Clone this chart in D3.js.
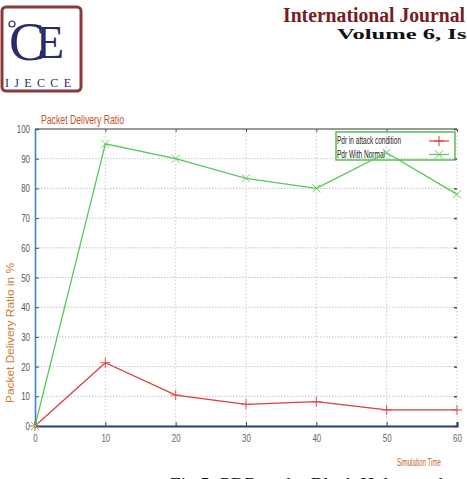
<!DOCTYPE html>
<html>
<head>
<meta charset="utf-8">
<script src="https://cdn.jsdelivr.net/npm/d3@7"></script>
<style>
body { margin: 0; background: #fff; }
svg { display: block; }
</style>
</head>
<body>
<script>
// chart data
var times = [0, 10, 20, 30, 40, 50, 60];
var attackPdr = [0, 21.3, 10.4, 7.3, 8.2, 5.4, 5.4];
var normalPdr = [0, 95, 90, 83.4, 80, 92, 78];
var xTicks = [0, 10, 20, 30, 40, 50, 60];
var yTicks = [0, 10, 20, 30, 40, 50, 60, 70, 80, 90, 100];
var seriesNames = ["Pdr in attack condition", "Pdr With Normal"];

var W = 467, H = 479;
var sans = "'Liberation Sans', Arial, sans-serif";
var serif = "'Liberation Serif', 'Times New Roman', serif";

var svg = d3.select("body").append("svg")
    .attr("width", W)
    .attr("height", H);

// squeeze a text into a given width (the chart uses a very narrow font)
function squeeze(sel, perChar) {
    sel.each(function() {
        var t = d3.select(this);
        t.attr("textLength", t.text().length * perChar)
         .attr("lengthAdjust", "spacingAndGlyphs");
    });
}

// header: logo + journal name
var logo = svg.append("g");
logo.append("rect")
    .attr("x", 2).attr("y", 7).attr("width", 79).attr("height", 84)
    .attr("rx", 4)
    .attr("fill", "#fff").attr("stroke", "#8a3a3a").attr("stroke-width", 3);
var mono = logo.append("text")
    .attr("y", 60)
    .style("font-family", serif)
    .attr("fill", "#2b2a6b");
mono.append("tspan").attr("x", 9).style("font-size", "54px").text("C");
mono.append("tspan").attr("x", 36).attr("dy", -2).style("font-size", "46px").text("E");
logo.append("circle")
    .attr("cx", 12).attr("cy", 24).attr("r", 3)
    .attr("fill", "none").attr("stroke", "#2b2a6b").attr("stroke-width", 1.2);
logo.append("text")
    .attr("x", 5).attr("y", 87)
    .attr("textLength", 66).attr("lengthAdjust", "spacing")
    .style("font-family", serif)
    .style("font-size", "12px")
    .attr("fill", "#2b2a6b")
    .text("IJECCE");

svg.append("text")
    .attr("x", 283).attr("y", 22)
    .attr("textLength", 182).attr("lengthAdjust", "spacingAndGlyphs")
    .style("font-family", serif)
    .style("font-weight", "bold")
    .style("font-size", "20px")
    .attr("fill", "#7a1a22")
    .text("International Journal");
svg.append("text")
    .attr("x", 337).attr("y", 39)
    .attr("textLength", 182).attr("lengthAdjust", "spacingAndGlyphs")
    .style("font-family", serif)
    .style("font-weight", "bold")
    .style("font-size", "15.5px")
    .attr("fill", "#111")
    .text("Volume 6, Issue 3");

// plot area
var x = d3.scaleLinear().domain([0, 60]).range([35, 457]);
var y = d3.scaleLinear().domain([0, 100]).range([426, 129]);

// grid
svg.append("g").selectAll("line")
    .data(yTicks.filter(function(d){ return d > 0 && d < 100; }))
    .join("line")
    .attr("x1", x(0)).attr("x2", x(60))
    .attr("y1", function(d){ return y(d); })
    .attr("y2", function(d){ return y(d); })
    .attr("stroke", "#c4c4c4").attr("stroke-width", 1)
    .attr("stroke-dasharray", "1.5,1.5");
svg.append("g").selectAll("line")
    .data(xTicks.filter(function(d){ return d > 0; }))
    .join("line")
    .attr("x1", function(d){ return x(d); })
    .attr("x2", function(d){ return x(d); })
    .attr("y1", y(100)).attr("y2", y(0))
    .attr("stroke", "#cdcdcd").attr("stroke-width", 1)
    .attr("stroke-dasharray", "1.5,2");

// frame: top border and mirrored ticks
svg.append("line")
    .attr("x1", x(0)).attr("x2", x(60))
    .attr("y1", y(100)).attr("y2", y(100))
    .attr("stroke", "#7a7a7a").attr("stroke-width", 1.3);
var gTop = svg.append("g")
    .attr("transform", "translate(0," + y(100) + ")")
    .call(d3.axisTop(x).tickValues(xTicks).tickSize(-3).tickFormat(""));
gTop.select(".domain").remove();
gTop.selectAll(".tick line").attr("stroke", "#555");
var gRight = svg.append("g")
    .attr("transform", "translate(" + x(60) + ",0)")
    .call(d3.axisRight(y).tickValues(yTicks).tickSize(-3).tickFormat(""));
gRight.select(".domain").remove();
gRight.selectAll(".tick line").attr("stroke", "#444").attr("stroke-width", 1.4);

// axes
var gx = svg.append("g")
    .attr("transform", "translate(0," + y(0) + ")")
    .call(d3.axisBottom(x).tickValues(xTicks).tickSize(-4).tickPadding(8));
gx.select(".domain").attr("stroke", "#1f3f7a").attr("stroke-width", 2.2);
gx.selectAll(".tick line").attr("stroke", "#444");
gx.selectAll("text")
    .style("font-family", sans).style("font-size", "11px")
    .attr("fill", "#666")
    .call(squeeze, 4.4);

var gy = svg.append("g")
    .attr("transform", "translate(" + x(0) + ",0)")
    .call(d3.axisLeft(y).tickValues(yTicks).tickSize(-4).tickPadding(5));
gy.select(".domain").attr("stroke", "#3a80d4").attr("stroke-width", 1.6);
gy.selectAll(".tick line").attr("stroke", "#555");
gy.selectAll("text")
    .style("font-family", sans).style("font-size", "11px")
    .attr("fill", "#555")
    .call(squeeze, 4.4);

// titles
svg.append("text")
    .attr("x", 41).attr("y", 124)
    .attr("textLength", 83).attr("lengthAdjust", "spacingAndGlyphs")
    .style("font-family", sans).style("font-size", "13px")
    .attr("fill", "#c4532c")
    .text("Packet Delivery Ratio");
svg.append("text")
    .attr("transform", "translate(14,333) rotate(-90)")
    .attr("text-anchor", "middle")
    .attr("textLength", 140).attr("lengthAdjust", "spacingAndGlyphs")
    .style("font-family", sans).style("font-size", "10px")
    .attr("fill", "#d27a32")
    .text("Packet Delivery Ratio in %");
svg.append("text")
    .attr("x", 397).attr("y", 466)
    .attr("textLength", 44).attr("lengthAdjust", "spacingAndGlyphs")
    .style("font-family", sans).style("font-size", "10px")
    .attr("fill", "#c4622e")
    .text("Simulation Time");

// marker helpers
function plus(g, cx, cy, s, col) {
    g.append("path")
        .attr("d", "M" + (cx - s) + "," + cy + "H" + (cx + s) + "M" + cx + "," + (cy - s) + "V" + (cy + s))
        .attr("stroke", col).attr("stroke-width", 1).attr("fill", "none");
}
function cross(g, cx, cy, s, col) {
    g.append("path")
        .attr("d", "M" + (cx - s) + "," + (cy - s) + "L" + (cx + s) + "," + (cy + s) +
                   "M" + (cx - s) + "," + (cy + s) + "L" + (cx + s) + "," + (cy - s))
        .attr("stroke", col).attr("stroke-width", 1).attr("fill", "none");
}

var redCol = "#dd3c3c", greenCol = "#58c858";

// legend (drawn under the data lines, as in the original)
var lg = svg.append("g");
lg.append("rect")
    .attr("x", 336).attr("y", 132).attr("width", 119).attr("height", 28)
    .attr("fill", "none").attr("stroke", "#3cb43c").attr("stroke-width", 1.3);
var legendText = [64, 48];
seriesNames.forEach(function(name, i){
    var yy = 141 + i * 13.5;
    lg.append("text")
        .attr("x", 337).attr("y", yy + 3)
        .attr("textLength", legendText[i]).attr("lengthAdjust", "spacingAndGlyphs")
        .style("font-family", sans).style("font-size", "10px")
        .attr("fill", "#222")
        .text(name);
    lg.append("line")
        .attr("x1", 429).attr("x2", 449).attr("y1", yy).attr("y2", yy)
        .attr("stroke", i === 0 ? redCol : greenCol).attr("stroke-width", 1.2);
    if (i === 0) plus(lg, 439, yy, 5, redCol);
    else cross(lg, 439, yy, 4, greenCol);
});

// lines
var line = d3.line()
    .x(function(d){ return x(d[0]); })
    .y(function(d){ return y(d[1]); });

var attackPts = times.map(function(t, i){ return [t, attackPdr[i]]; });
var normalPts = times.map(function(t, i){ return [t, normalPdr[i]]; });

svg.append("path").datum(normalPts)
    .attr("d", line).attr("fill", "none")
    .attr("stroke", greenCol).attr("stroke-width", 1.3);
svg.append("path").datum(attackPts)
    .attr("d", line).attr("fill", "none")
    .attr("stroke", redCol).attr("stroke-width", 1.3);

var mk = svg.append("g");
attackPts.forEach(function(p){ plus(mk, x(p[0]), y(p[1]), 5, "#e05050"); });
normalPts.forEach(function(p){ cross(mk, x(p[0]), y(p[1]), 4, "#6ad06a"); });

// figure caption (cut off at the bottom edge)
svg.append("text")
    .attr("x", 170).attr("y", 491)
    .attr("textLength", 278).attr("lengthAdjust", "spacingAndGlyphs")
    .style("font-family", serif)
    .style("font-size", "19.5px")
    .attr("fill", "#111")
    .text("Fig 5: PDR under Black Hole attack");
</script>
</body>
</html>
